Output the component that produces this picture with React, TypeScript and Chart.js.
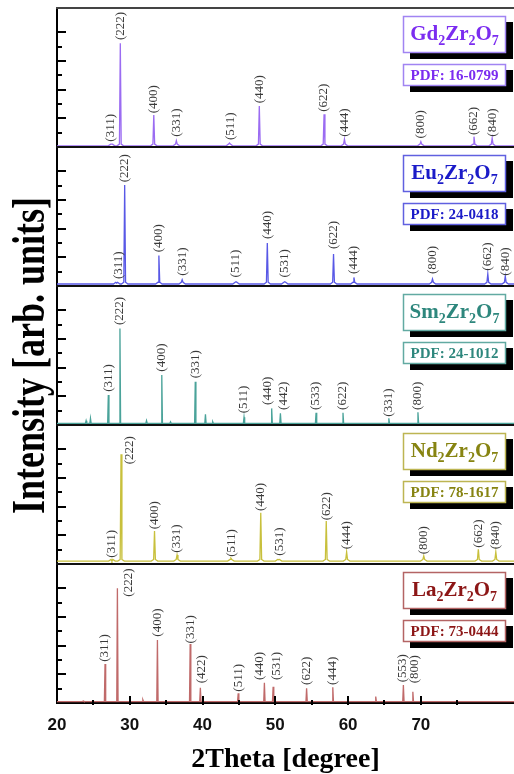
import React, { useEffect, useRef } from 'react';
import { Chart, registerables } from 'chart.js';
Chart.register(...registerables);

// ---------- data (2θ in degrees, intensity in arbitrary units per panel) ----------
const xMin = 20;
const xMax = 82.8;
const xTickStep = 5;
const panelMax = 9.7;

const gdPos = [27.5, 28.7, 33.3, 36.4, 43.7, 47.8, 56.7, 59.5, 70.0, 77.3, 79.8];
const gdInt = [0.2, 7.24, 2.23, 0.44, 0.28, 2.86, 2.28, 0.54, 0.37, 0.72, 0.61];
const gdHkl = ['(311)', '(222)', '(400)', '(331)', '(511)', '(440)', '(622)', '(444)', '(800)', '(662)', '(840)'];
const gdLabelX = [27.3, 28.8, 33.3, 36.4, 43.8, 47.8, 56.7, 59.5, 70.0, 77.3, 79.8];
const gdLabelY = [0.37, 7.47, 2.35, 0.72, 0.49, 3.05, 2.46, 0.72, 0.6, 0.84, 0.72];

const euPos = [28.2, 29.3, 34.0, 37.2, 44.6, 48.9, 51.3, 58.0, 60.8, 71.6, 79.2, 81.6];
const euInt = [0.2, 7.05, 2.12, 0.44, 0.3, 3.0, 0.3, 2.23, 0.6, 0.49, 0.84, 0.68];
const euHkl = ['(311)', '(222)', '(400)', '(331)', '(511)', '(440)', '(531)', '(622)', '(444)', '(800)', '(662)', '(840)'];
const euLabelX = [28.4, 29.3, 34.0, 37.2, 44.6, 48.9, 51.3, 58.0, 60.8, 71.6, 79.2, 81.6];
const euLabelY = [0.49, 7.24, 2.35, 0.72, 0.6, 3.28, 0.6, 2.58, 0.84, 0.84, 1.07, 0.72];

const smPos = [24.0, 24.6, 27.05, 28.65, 32.3, 34.4, 35.6, 39.0, 40.4, 41.4, 45.7, 49.5, 50.7, 55.6, 59.3, 65.6, 69.6];
const smInt = [0.3, 0.47, 2.09, 6.74, 0.3, 3.49, 0.22, 3.02, 0.75, 0.22, 0.54, 1.16, 0.82, 0.86, 0.86, 0.47, 0.89];
const smHkl = ['', '', '(311)', '(222)', '', '(400)', '', '(331)', '', '', '(511)', '(440)', '(442)', '(533)', '(622)', '(331)', '(800)'];
const smLabelX = [0, 0, 27.05, 28.65, 0, 34.4, 0, 39.0, 0, 0, 45.7, 49.0, 51.1, 55.6, 59.3, 65.6, 69.6];
const smLabelY = [0, 0, 2.32, 6.98, 0, 3.72, 0, 3.26, 0, 0, 0.82, 1.4, 1.05, 1.05, 1.05, 0.58, 1.05];

const ndPos = [27.55, 28.8, 33.4, 36.5, 43.9, 48.0, 50.45, 57.0, 59.8, 70.4, 77.9, 80.3];
const ndInt = [0.2, 7.66, 2.3, 0.63, 0.4, 3.58, 0.3, 3.0, 0.84, 0.56, 1.03, 0.84];
const ndHkl = ['(311)', '(222)', '(400)', '(331)', '(511)', '(440)', '(531)', '(622)', '(444)', '(800)', '(662)', '(840)'];
const ndLabelX = [27.55, 30.0, 33.4, 36.5, 44.0, 48.0, 50.6, 57.0, 59.8, 70.4, 77.9, 80.3];
const ndLabelY = [0.44, 6.96, 2.42, 0.79, 0.5, 3.7, 0.58, 3.05, 1.03, 0.68, 1.14, 1.03];

const laPos = [23.6, 26.6, 28.3, 31.8, 33.8, 38.3, 39.7, 44.9, 48.5, 49.7, 54.3, 57.9, 63.8, 67.6, 68.9];
const laInt = [0.15, 2.72, 8.0, 0.22, 4.4, 4.12, 1.07, 0.68, 1.42, 1.14, 1.02, 1.1, 0.45, 1.26, 0.79];
const laHkl = ['', '(311)', '(222)', '', '(400)', '(331)', '(422)', '(511)', '(440)', '(531)', '(622)', '(444)', '', '(553)', '(800)'];
const laLabelX = [0, 26.6, 29.8, 0, 33.8, 38.3, 39.9, 44.9, 47.9, 50.2, 54.3, 57.9, 0, 67.5, 69.1];
const laLabelY = [0, 2.88, 7.42, 0, 4.63, 4.16, 1.37, 0.79, 1.6, 1.6, 1.26, 1.26, 0, 1.45, 1.37];

const baselines = [0.08, 0.14, 0.12, 0.2, 0.1];
const compounds = [
  [['Gd', false], ['2', true], ['Zr', false], ['2', true], ['O', false], ['7', true]],
  [['Eu', false], ['2', true], ['Zr', false], ['2', true], ['O', false], ['7', true]],
  [['Sm', false], ['2', true], ['Zr', false], ['2', true], ['O', false], ['7', true]],
  [['Nd', false], ['2', true], ['Zr', false], ['2', true], ['O', false], ['7', true]],
  [['La', false], ['2', true], ['Zr', false], ['2', true], ['O', false], ['7', true]],
] as [string, boolean][][];
const pdfCards = ['PDF: 16-0799', 'PDF: 24-0418', 'PDF: 24-1012', 'PDF: 78-1617', 'PDF: 73-0444'];

// ---------- styles ----------
const panelStyle = [
  { axis: 'yGd', line: '#9b6cf2', text: '#7b2cf0', border: '#a184f2', broad: true },
  { axis: 'yEu', line: '#5858e6', text: '#1b1bc8', border: '#6060e0', broad: true },
  { axis: 'ySm', line: '#4aa39a', text: '#2e877d', border: '#62aaa2', broad: false },
  { axis: 'yNd', line: '#c8c03c', text: '#878412', border: '#bdb552', broad: true },
  { axis: 'yLa', line: '#c06a6a', text: '#8c1616', border: '#b46464', broad: false },
];

const panelData = [
  { pos: gdPos, int: gdInt, hkl: gdHkl, lx: gdLabelX, ly: gdLabelY },
  { pos: euPos, int: euInt, hkl: euHkl, lx: euLabelX, ly: euLabelY },
  { pos: smPos, int: smInt, hkl: smHkl, lx: smLabelX, ly: smLabelY },
  { pos: ndPos, int: ndInt, hkl: ndHkl, lx: ndLabelX, ly: ndLabelY },
  { pos: laPos, int: laInt, hkl: laHkl, lx: laLabelX, ly: laLabelY },
];

function buildTrace(pos: number[], ints: number[], base: number, broad: boolean) {
  const pts: { x: number; y: number }[] = [{ x: xMin, y: base }];
  pos.forEach((p, i) => {
    const h = ints[i];
    if (broad) {
      pts.push({ x: p - 0.45, y: base });
      pts.push({ x: p - 0.12, y: base + 0.12 });
      pts.push({ x: p, y: h });
      pts.push({ x: p + 0.12, y: base + 0.12 });
      pts.push({ x: p + 0.45, y: base });
    } else {
      pts.push({ x: p - 0.09, y: base });
      pts.push({ x: p, y: h });
      pts.push({ x: p + 0.09, y: base });
    }
  });
  pts.push({ x: xMax, y: base });
  return pts;
}

const SERIF = '"Liberation Serif", "Times New Roman", serif';
const SANS = '"Liberation Sans", Arial, sans-serif';

const decorPlugin = {
  id: 'xrdDecor',
  afterDraw(chart: any) {
    const ctx: CanvasRenderingContext2D = chart.ctx;
    const { left, right, top, bottom } = chart.chartArea;
    const xs = chart.scales.x;
    ctx.save();

    panelStyle.forEach((st, pi) => {
      const ys = chart.scales[st.axis];
      const d = panelData[pi];
      // y ticks (inward)
      ctx.strokeStyle = '#000';
      ctx.lineWidth = 2;
      ys.ticks.forEach((t: any) => {
        const v = t.value;
        if (!Number.isInteger(v) || v <= 0) return;
        const py = Math.round(ys.getPixelForValue(v));
        const len = v % 2 === 0 ? 9 : 5;
        ctx.beginPath();
        ctx.moveTo(left, py);
        ctx.lineTo(left + len, py);
        ctx.stroke();
      });
      // panel separators
      ctx.beginPath();
      ctx.lineWidth = 2.2;
      ctx.strokeStyle = pi === 0 ? '#444' : '#111';
      ctx.moveTo(left - 1, ys.top);
      ctx.lineTo(right, ys.top);
      ctx.stroke();

      // peak labels
      ctx.fillStyle = '#3a3a3a';
      ctx.font = `13px ${SERIF}`;
      ctx.textAlign = 'left';
      ctx.textBaseline = 'middle';
      d.hkl.forEach((lab, i) => {
        if (!lab) return;
        const px = xs.getPixelForValue(d.lx[i]);
        const py = ys.getPixelForValue(d.ly[i]);
        ctx.save();
        ctx.translate(px, py);
        ctx.rotate(-Math.PI / 2);
        ctx.fillText(lab, 0, 0);
        ctx.restore();
      });

      // compound box
      const bx = 403, bw = 103;
      const by = ys.top + 8, bh = 37;
      ctx.fillStyle = '#000';
      ctx.fillRect(bx + 7, by + 6, bw, bh);
      ctx.fillStyle = '#fff';
      ctx.fillRect(bx, by, bw, bh);
      ctx.strokeStyle = st.border;
      ctx.lineWidth = 1.5;
      ctx.strokeRect(bx + 0.5, by + 0.5, bw - 1, bh - 1);
      const parts = compounds[pi];
      const mainFont = `bold 21px ${SERIF}`;
      const subFont = `bold 14px ${SERIF}`;
      let tw = 0;
      parts.forEach(([s, sub]) => {
        ctx.font = sub ? subFont : mainFont;
        tw += ctx.measureText(s).width;
      });
      let cx = bx + (bw - tw) / 2;
      ctx.fillStyle = st.text;
      ctx.textAlign = 'left';
      ctx.textBaseline = 'alphabetic';
      parts.forEach(([s, sub]) => {
        ctx.font = sub ? subFont : mainFont;
        ctx.fillText(s, cx, by + (sub ? 29 : 24));
        cx += ctx.measureText(s).width;
      });

      // PDF card box
      const py0 = ys.top + 56, ph = 22;
      ctx.fillStyle = '#000';
      ctx.fillRect(bx + 7, py0 + 6, bw, ph);
      ctx.fillStyle = '#fff';
      ctx.fillRect(bx, py0, bw, ph);
      ctx.strokeStyle = st.border;
      ctx.lineWidth = 1.5;
      ctx.strokeRect(bx + 0.5, py0 + 0.5, bw - 1, ph - 1);
      ctx.fillStyle = st.text;
      ctx.font = `bold 15px ${SERIF}`;
      ctx.textAlign = 'center';
      ctx.textBaseline = 'middle';
      ctx.fillText(pdfCards[pi], bx + bw / 2, py0 + ph / 2 + 1);
    });

    // x ticks (inward at bottom)
    ctx.strokeStyle = '#000';
    ctx.lineWidth = 2;
    xs.ticks.forEach((t: any) => {
      const v = t.value;
      if (Math.abs(v % 5) > 1e-6 || v <= xMin) return;
      const px = Math.round(xs.getPixelForValue(v));
      const up = v % 10 === 0 ? 7 : 3;
      ctx.beginPath();
      ctx.moveTo(px, bottom - up);
      ctx.lineTo(px, bottom + 2);
      ctx.stroke();
    });

    // y axis title
    ctx.save();
    ctx.translate(44, (top + bottom) / 2);
    ctx.rotate(-Math.PI / 2);
    ctx.scale(1, 1.3);
    ctx.fillStyle = '#000';
    ctx.font = `bold 36px ${SERIF}`;
    ctx.textAlign = 'center';
    ctx.textBaseline = 'alphabetic';
    ctx.fillText('Intensity [arb. units]', 0, 0);
    ctx.restore();

    ctx.restore();
  },
};

function yAxis() {
  return {
    type: 'linear',
    position: 'left',
    stack: 'xrd',
    stackWeight: 1,
    min: 0,
    max: panelMax,
    ticks: { display: false, stepSize: 1 },
    grid: { display: false, drawTicks: false },
    border: { display: true, color: '#000', width: 2 },
    afterFit: (s: any) => {
      s.width = 57;
      s.paddingTop = 0;
      s.paddingBottom = 0;
    },
  };
}

export default function App() {
  const ref = useRef<HTMLCanvasElement>(null);
  useEffect(() => {
    if (!ref.current) return;
    const datasets = panelStyle.map((st, i) => ({
      data: buildTrace(panelData[i].pos, panelData[i].int, baselines[i], st.broad),
      yAxisID: st.axis,
      xAxisID: 'x',
      borderColor: st.line,
      borderWidth: 1.3,
      pointRadius: 0,
      fill: false,
      tension: 0,
    }));
    const chart = new Chart(ref.current, {
      type: 'line',
      data: { datasets },
      options: {
        responsive: false,
        animation: false,
        events: [],
        layout: { padding: { top: 8, left: 0, right: 0, bottom: 0 } },
        plugins: { legend: { display: false }, tooltip: { enabled: false } },
        scales: {
          x: {
            type: 'linear',
            position: 'bottom',
            min: xMin,
            max: xMax,
            grid: { display: false, drawTicks: false },
            border: { display: true, color: '#000', width: 2 },
            ticks: {
              stepSize: xTickStep,
              autoSkip: false,
              maxRotation: 0,
              padding: 12,
              color: '#111',
              font: { family: SANS, size: 17, weight: 'bold' },
              callback: (v: any) => (Math.abs(v % 10) < 1e-6 ? String(v) : ''),
            },
            title: {
              display: true,
              text: '2Theta [degree]',
              color: '#000',
              font: { family: SERIF, size: 28, weight: 'bold', lineHeight: 1 },
              padding: { top: 0, bottom: 0 },
            },
            afterFit: (s: any) => {
              s.height = 71;
              s.paddingLeft = 0;
              s.paddingRight = 0;
            },
          },
          // stacked axes are placed bottom-first
          yLa: yAxis(),
          yNd: yAxis(),
          ySm: yAxis(),
          yEu: yAxis(),
          yGd: yAxis(),
        } as any,
      },
      plugins: [decorPlugin],
    } as any);
    return () => chart.destroy();
  }, []);
  return (
    <div style={{ position: 'absolute', left: 0, top: 0, width: 514, height: 774, background: '#fff' }}>
      <canvas ref={ref} width={514} height={774} style={{ display: 'block', width: 514, height: 774 }} />
    </div>
  );
}
